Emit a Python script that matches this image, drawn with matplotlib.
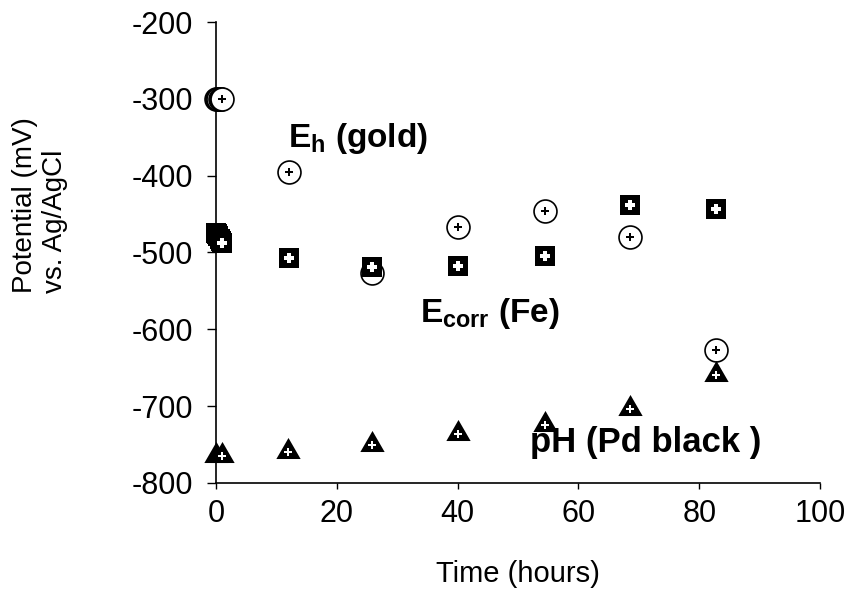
import matplotlib
matplotlib.use("Agg")
import matplotlib.pyplot as plt
import matplotlib.transforms as mtransforms
from matplotlib.path import Path

plt.rcParams['font.family'] = ['Liberation Sans', 'DejaVu Sans']
plt.rcParams['mathtext.fontset'] = 'custom'
plt.rcParams['mathtext.rm'] = 'Liberation Sans'
plt.rcParams['mathtext.bf'] = 'Liberation Sans:bold'
plt.rcParams['mathtext.it'] = 'Liberation Sans:italic'
plt.rcParams['axes.unicode_minus'] = False

# ---- data ----
eh_time = [0, 0.2, 0.4, 0.6, 0.8, 1.0, 12.1, 25.8, 40.1, 54.5, 68.5, 82.7]
eh_mv = [-300, -300, -300, -300, -300, -300, -395, -527, -467, -446, -480, -627]

ecorr_time = [0, 0.2, 0.4, 0.6, 0.8, 1.0, 12.1, 25.8, 40.1, 54.5, 68.5, 82.7]
ecorr_mv = [-474, -476, -479, -482, -485, -488, -507, -519, -517, -504, -438, -444]

ph_time = [0, 1.0, 12.0, 25.8, 40.1, 54.5, 68.5, 82.7]
ph_mv = [-760, -760, -754, -745, -731, -719, -698, -654]

x_ticks = [0, 20, 40, 60, 80, 100]
y_ticks = [-800, -700, -600, -500, -400, -300, -200]

fig = plt.figure(figsize=(8.49, 5.90), dpi=100)
ax = fig.add_axes([216/849, 1-483/590, (820-216)/849, (483-22)/590])

tri = Path([(-1, -0.866), (1, -0.866), (0, 0.866), (-1, -0.866)],
           [Path.MOVETO, Path.LINETO, Path.LINETO, Path.CLOSEPOLY])
tri_plus_tf = mtransforms.offset_copy(ax.transData, fig, x=0, y=-2.8, units='points')


def covered_by_next(xs, ys, i):
    return i + 1 < len(xs) and abs(xs[i + 1] - xs[i]) < 2 and abs(ys[i + 1] - ys[i]) < 10


z = 3
for x, y in zip(eh_time, eh_mv):
    ax.plot([x], [y], linestyle='none', marker='o', markersize=16.5,
            markerfacecolor='white', markeredgecolor='black', markeredgewidth=1.2,
            clip_on=False, zorder=z)
    ax.plot([x], [y], linestyle='none', marker='P', markersize=6,
            markerfacecolor='black', markeredgecolor='black', markeredgewidth=0,
            clip_on=False, zorder=z + 0.5)
    z += 1

for x, y in zip(ecorr_time, ecorr_mv):
    ax.plot([x], [y], linestyle='none', marker='s', markersize=15,
            markerfacecolor='black', markeredgecolor='black', markeredgewidth=0,
            clip_on=False, zorder=z)
    ax.plot([x], [y], linestyle='none', marker='P', markersize=6.5,
            markerfacecolor='white', markeredgecolor='white', markeredgewidth=0,
            clip_on=False, zorder=z + 0.5)
    z += 1

for i, (x, y) in enumerate(zip(ph_time, ph_mv)):
    ax.plot([x], [y], linestyle='none', marker=tri, markersize=17.5,
            markerfacecolor='black', markeredgecolor='black', markeredgewidth=0,
            clip_on=False, zorder=z)
    if not covered_by_next(ph_time, ph_mv, i):
        ax.plot([x], [y], linestyle='none', marker='P', markersize=6,
                markerfacecolor='white', markeredgecolor='white', markeredgewidth=0,
                clip_on=False, zorder=z + 0.5, transform=tri_plus_tf)
    z += 1

ax.set_xlim(0, 100)
ax.set_ylim(-800, -200)
ax.set_xticks(x_ticks)
ax.set_yticks(y_ticks)
ax.tick_params(axis='x', direction='out', length=4.5, width=1, labelsize=22, pad=7)
ax.tick_params(axis='y', direction='out', length=6.5, width=1, labelsize=22, pad=10)
for s in ['top', 'right']:
    ax.spines[s].set_visible(False)
for s in ['left', 'bottom']:
    ax.spines[s].set_linewidth(1.2)

ax.set_xlabel('Time (hours)', fontsize=21, labelpad=22)

fig.text(0.014, 297/590, 'Potential (mV)\nvs. Ag/AgCl', rotation=90, fontsize=20,
         ha='left', va='bottom', multialignment='left', linespacing=1.2)

ax.text(11.9, -363, r'$\mathbf{E_{h}}$ (gold)', fontsize=24, fontweight='bold',
        ha='left', va='baseline')
ax.text(33.8, -590, r'$\mathbf{E_{corr}}$ (Fe)', fontsize=24, fontweight='bold',
        ha='left', va='baseline')
ax.text(52.0, -760, 'pH (Pd black )', fontsize=25, fontweight='bold',
        ha='left', va='baseline')

fig.savefig('out.png', dpi=100)
